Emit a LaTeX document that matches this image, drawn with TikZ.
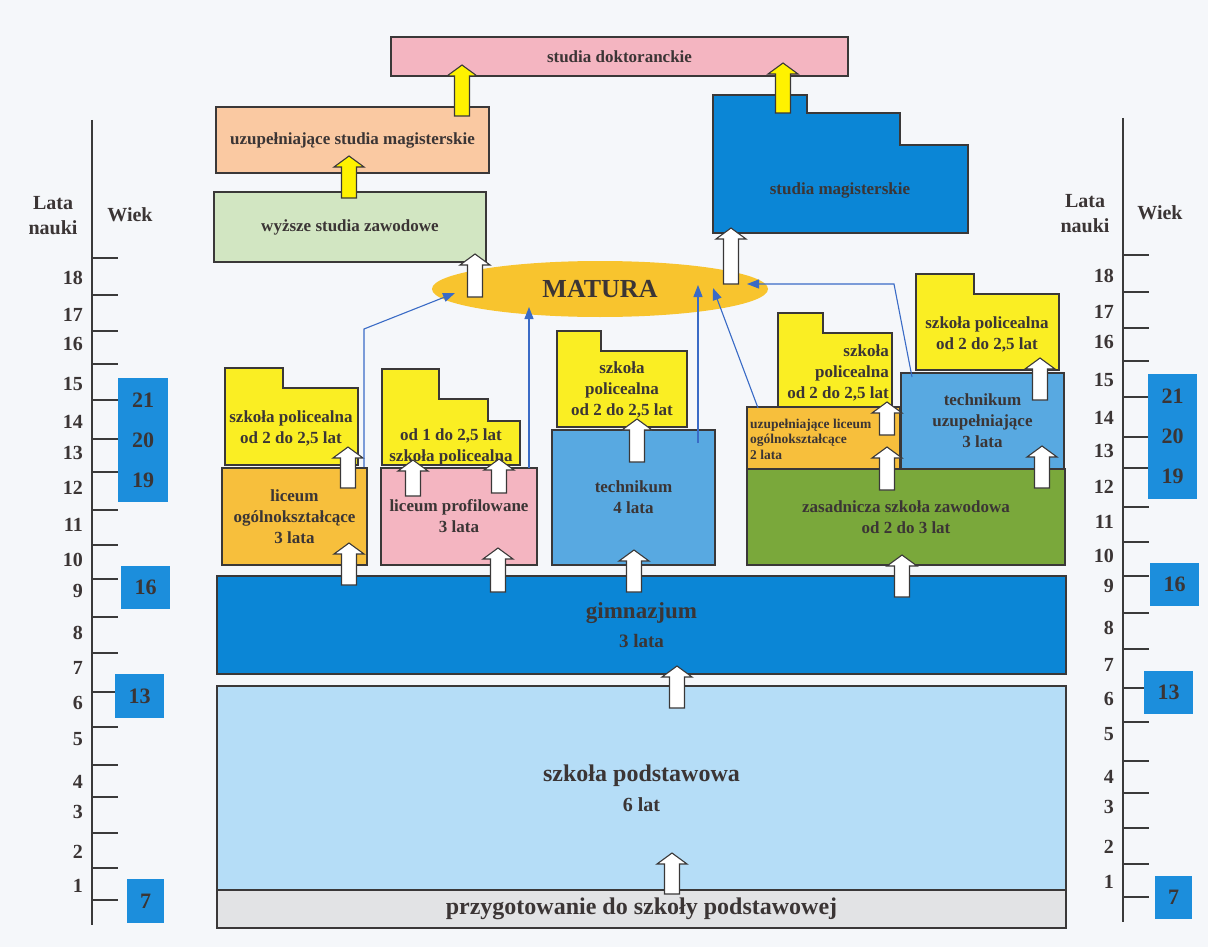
\documentclass[tikz,border=0pt]{standalone}
\usepackage{fontspec}
\setmainfont{Liberation Serif}
\usetikzlibrary{shapes.geometric,arrows.meta}
\definecolor{bgc}{HTML}{F5F7FA}
\definecolor{edge}{HTML}{3A3838}
\definecolor{txt}{HTML}{3B3535}
\definecolor{pinkc}{HTML}{F4B5C1}
\definecolor{peachc}{HTML}{FAC9A2}
\definecolor{lgreenc}{HTML}{D2E6C2}
\definecolor{dblue}{HTML}{0B86D6}
\definecolor{matc}{HTML}{F8C42E}
\definecolor{goldc}{HTML}{F7BF3C}
\definecolor{yelc}{HTML}{FAEE23}
\definecolor{mblue}{HTML}{58A9E1}
\definecolor{greenc}{HTML}{7AA83B}
\definecolor{lblue}{HTML}{B5DDF7}
\definecolor{grayc}{HTML}{E2E3E5}
\definecolor{arrowyel}{HTML}{FFF200}
\definecolor{linkc}{HTML}{3A6BC6}
\definecolor{agec}{HTML}{1C8EDC}
\definecolor{scalec}{HTML}{3A3A3A}
\newcommand\blockarrow[4]{\filldraw[fill=#1, draw=edge, line width=1.1pt, line join=miter] (#2-7.5,#3) -- (#2-7.5,#4+11) -- (#2-15,#4+11) -- (#2,#4) -- (#2+15,#4+11) -- (#2+7.5,#4+11) -- (#2+7.5,#3) -- cycle;}
\tikzset{
  box/.style={draw=edge, line width=1.4pt, inner sep=0pt, outer sep=0pt, align=center, text=txt, font=\bfseries\fontsize{17}{21}\selectfont},
  shapeline/.style={draw=edge, line width=1.4pt},
  lbl/.style={text=txt, inner sep=0pt, align=center, font=\bfseries\fontsize{17}{21}\selectfont},
  link/.style={draw=linkc, line width=1.1pt, -{Triangle[length=12pt,width=9pt]}},
  tickline/.style={draw=scalec, line width=2.6pt},
  num/.style={text=txt, inner sep=0pt, font=\bfseries\fontsize{20}{20}\selectfont},
  agebox/.style={fill=agec, inner sep=0pt, outer sep=0pt, align=center, text=txt, font=\bfseries\fontsize{22}{40}\selectfont},
  head/.style={text=txt, inner sep=0pt, align=center, font=\bfseries\fontsize{20}{25}\selectfont},
}
\begin{document}
\begin{tikzpicture}[x=1pt,y=-1pt]
\fill[bgc] (0,0) rectangle (1208,947);
\useasboundingbox (0,0) rectangle (1208,947);

% ---------- left scale ----------
\draw[scalec, line width=2.2pt] (92,120) -- (92,925);
\foreach \y in {258,295,331,364,400,439,472,510,545,579,617,653,692,727,765,797,833,868,900}
  \draw[tickline] (92,\y) -- (118,\y);
\foreach \n/\y in {18/278,17/315,16/344,15/384,14/422,13/453,12/488,11/525,10/560,9/591,8/633,7/668,6/703,5/739,4/782,3/812,2/852,1/886}
  \node[num, anchor=east] (ln\n) at (83,\y) {\n};
\node[head] (llata) at (53,216) {Lata\\nauki};
\node[head] (lwiek) at (130,215) {Wiek};
\node[agebox, minimum width=50pt, minimum height=124pt] (lage1) at (143,440) {21\\20\\19};
\node[agebox, minimum width=49pt, minimum height=43pt] (lage2) at (145.5,587.5) {16};
\node[agebox, minimum width=49pt, minimum height=44pt] (lage3) at (139.5,696) {13};
\node[agebox, minimum width=37pt, minimum height=44pt] (lage4) at (145.5,901) {7};

% ---------- right scale ----------
\draw[scalec, line width=2.2pt] (1123,118) -- (1123,922);
\foreach \y in {255,292,328,361,397,437,468,507,542,576,613,649,688,722,761,793,828,864,897}
  \draw[tickline] (1123,\y) -- (1149,\y);
\foreach \n/\y in {18/276,17/312,16/342,15/380,14/418,13/451,12/487,11/522,10/556,9/586,8/628,7/665,6/699,5/734,4/777,3/807,2/847,1/882}
  \node[num, anchor=east] (rn\n) at (1114,\y) {\n};
\node[head] (rlata) at (1085,214) {Lata\\nauki};
\node[head] (rwiek) at (1160,213) {Wiek};
\node[agebox, minimum width=49pt, minimum height=125pt] (rage1) at (1172.5,436.5) {21\\20\\19};
\node[agebox, minimum width=49pt, minimum height=43pt] (rage2) at (1174.5,584.5) {16};
\node[agebox, minimum width=49pt, minimum height=43pt] (rage3) at (1168.5,692.5) {13};
\node[agebox, minimum width=37pt, minimum height=43pt] (rage4) at (1173.5,897.5) {7};

% ---------- higher education ----------
\node[box, fill=pinkc, minimum width=457pt, minimum height=39pt] (doc) at (619.5,56.5) {studia doktoranckie};
\node[box, fill=peachc, minimum width=273pt, minimum height=66pt] (uzm) at (352.5,140) {uzupełniające studia magisterskie};
\node[box, fill=lgreenc, minimum width=272pt, minimum height=70pt] (wsz) at (350,227) {wyższe studia zawodowe};
\filldraw[shapeline, fill=dblue] (713,233) -- (713,95) -- (807,95) -- (807,113) -- (900,113) -- (900,145) -- (968,145) -- (968,233) -- cycle;
\node[lbl] (mag) at (840,190) {studia magisterskie};

\node[ellipse, fill=matc, minimum width=336pt, minimum height=56pt, inner sep=0pt, text=txt, font=\bfseries\fontsize{26}{26}\selectfont] (matura) at (600,289) {MATURA};

% ---------- secondary schools ----------
\filldraw[shapeline, fill=yelc] (225,465) -- (225,368) -- (283,368) -- (283,388) -- (358,388) -- (358,465) -- cycle;
\node[lbl] (pol1) at (291,428) {szkoła policealna\\od 2 do 2,5 lat};
\node[box, fill=goldc, minimum width=145pt, minimum height=97pt] (lo) at (294.5,516.5) {liceum\\ogólnokształcące\\3 lata};

\filldraw[shapeline, fill=yelc] (382,465) -- (382,369) -- (439,369) -- (439,399) -- (488,399) -- (488,421) -- (520,421) -- (520,465) -- cycle;
\node[lbl] (pol2) at (451,447) {od 1 do 2,5 lat\\szkoła policealna};
\node[box, fill=pinkc, minimum width=156pt, minimum height=97pt] (lp) at (459,516.5) {liceum profilowane\\3 lata};

\filldraw[shapeline, fill=yelc] (557,427) -- (557,331) -- (601,331) -- (601,351) -- (687,351) -- (687,427) -- cycle;
\node[lbl] (pol3) at (622,390) {szkoła\\policealna\\od 2 do 2,5 lat};
\node[box, fill=mblue, minimum width=163pt, minimum height=135pt] (tech) at (633.5,497.5) {technikum\\4 lata};

\filldraw[shapeline, fill=yelc] (778,407) -- (778,313) -- (823,313) -- (823,333) -- (892,333) -- (892,407) -- cycle;
\node[lbl, align=right, anchor=east] (pol4) at (889,373) {szkoła\\policealna\\od 2 do 2,5 lat};
\node[box, fill=goldc, minimum width=153pt, minimum height=62pt] (ulo) at (823.5,438) {};
\node[lbl, align=left, anchor=west, font=\bfseries\fontsize{13.5}{15.5}\selectfont] (ulot) at (750,439) {uzupełniające liceum\\ogólnokształcące\\2 lata};

\filldraw[shapeline, fill=yelc] (916,370) -- (916,274) -- (974,274) -- (974,294) -- (1059,294) -- (1059,370) -- cycle;
\node[lbl] (pol5) at (987,334) {szkoła policealna\\od 2 do 2,5 lat};
\node[box, fill=mblue, minimum width=163pt, minimum height=96pt] (tu) at (982.5,421) {technikum\\uzupełniające\\3 lata};

\node[box, fill=greenc, minimum width=318pt, minimum height=96pt] (zsz) at (906,517) {zasadnicza szkoła zawodowa\\od 2 do 3 lat};

% ---------- basic ----------
\node[box, fill=dblue, minimum width=849pt, minimum height=98pt, font=\bfseries\fontsize{23}{29}\selectfont] (gim) at (641.5,625) {gimnazjum\\{\fontsize{19}{29}\selectfont 3 lata}};
\node[box, fill=lblue, minimum width=849pt, minimum height=204pt, font=\bfseries\fontsize{24}{30}\selectfont] (podst) at (641.5,788) {szkoła podstawowa\\{\fontsize{20}{30}\selectfont 6 lat}};
\node[box, fill=grayc, minimum width=849pt, minimum height=38pt, font=\bfseries\fontsize{24}{24}\selectfont] (przyg) at (641.5,909) {przygotowanie do szkoły podstawowej};

% ---------- block arrows ----------
\blockarrow{arrowyel}{349}{198}{156}
\blockarrow{arrowyel}{462}{116}{65}
\blockarrow{arrowyel}{783}{113}{63}
\blockarrow{white}{475}{297}{254}
\blockarrow{white}{731}{284}{228}
\blockarrow{white}{348}{488}{447}
\blockarrow{white}{349}{585}{543}
\blockarrow{white}{413}{496}{460}
\blockarrow{white}{499}{493}{459}
\blockarrow{white}{498}{592}{548}
\blockarrow{white}{634}{592}{550}
\blockarrow{white}{637}{462}{419}
\blockarrow{white}{902}{597}{555}
\blockarrow{white}{887}{490}{447}
\blockarrow{white}{887}{435}{402}
\blockarrow{white}{1042}{488}{446}
\blockarrow{white}{1040}{400}{358}
\blockarrow{white}{677}{708}{666}
\blockarrow{white}{672}{894}{853}

% ---------- links to MATURA ----------
\coordinate (s1) at (364,467); \coordinate (e1) at (455,293);
\coordinate (s2) at (529,468); \coordinate (e2) at (529,307);
\coordinate (s3) at (698,443); \coordinate (e3) at (698,285);
\coordinate (s4) at (758,408); \coordinate (e4) at (713,288);
\coordinate (s5) at (912,377); \coordinate (e5) at (747,284);
\draw[link] (s1) -- (364,329) -- (e1);
\draw[link] (s2) -- (e2);
\draw[link] (s3) -- (e3);
\draw[link] (s4) -- (e4);
\draw[link] (s5) -- (894,284) -- (e5);
\end{tikzpicture}
\end{document}
